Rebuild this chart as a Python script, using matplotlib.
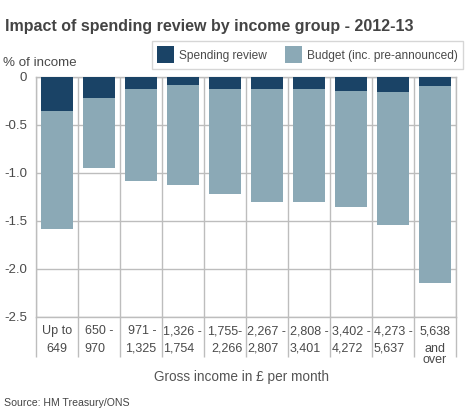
import matplotlib
matplotlib.use("Agg")
import matplotlib.pyplot as plt
import matplotlib.transforms as mtransforms
import numpy as np

categories = ["Up to\n649", "650 -\n970", "971 -\n1,325", "1,326 -\n1,754", "1,755-\n2,266",
              "2,267 -\n2,807", "2,808 -\n3,401", "3,402 -\n4,272", "4,273 -\n5,637", "5,638\nand\nover"]
spending_review = [-0.36, -0.22, -0.13, -0.09, -0.13, -0.13, -0.13, -0.15, -0.16, -0.10]
total = [-1.59, -0.95, -1.09, -1.13, -1.22, -1.31, -1.30, -1.36, -1.54, -2.15]
budget = [t - s for t, s in zip(total, spending_review)]
yticks = [0, -0.5, -1.0, -1.5, -2.0, -2.5]
ytick_labels = ["0", "-0.5", "-1.0", "-1.5", "-2.0", "-2.5"]

plt.rcParams['font.family'] = ['Liberation Sans', 'DejaVu Sans']

W, H = 466, 413
fig = plt.figure(figsize=(W / 100, H / 100), dpi=100)
ax = fig.add_axes([35.7 / W, (H - 316.7) / H, (456 - 35.7) / W, (316.7 - 76.7) / H])

dark = "#1a4366"
light = "#8ba9b6"
grid = "#bdbdbd"
label_col = "#4a4a4a"

x = np.arange(len(categories))
ax.bar(x, spending_review, width=0.76, color=dark, label="Spending review", zorder=3)
ax.bar(x, budget, width=0.76, bottom=spending_review, color=light,
       label="Budget (inc. pre-announced)", zorder=3)

ax.set_xlim(-0.5, len(categories) - 0.5)
ax.set_ylim(-2.5, 0)
ax.set_yticks(yticks)
ax.set_yticklabels(ytick_labels)
ax.yaxis.grid(True, color=grid, linewidth=1, zorder=0)
ax.tick_params(axis='y', length=0, pad=6, labelsize=9.5, labelcolor=label_col)

# tick labels: first two lines as tick labels, any extra line drawn separately
main_lines = ["\n".join(c.split("\n")[:2]) for c in categories]
extra_lines = [c.split("\n")[2:] for c in categories]
ax.set_xticks(x)
ax.set_xticklabels(main_lines, fontsize=9, color=label_col, linespacing=1.62, va="top")
aligns = ["center", "left", "right", "left", "right", "left", "left", "left", "left", "center"]
for lab, al in zip(ax.get_xticklabels(), aligns):
    lab.set_multialignment(al)
ax.tick_params(axis='x', which='major', length=0, pad=6)
bounds = np.arange(-0.5, len(categories), 1.0)
ax.set_xticks(bounds, minor=True)
ax.xaxis.grid(True, which='minor', color=grid, linewidth=1, zorder=0)
ax.tick_params(axis='x', which='minor', length=28.5, width=1, color=grid, direction='out')

blend = mtransforms.blended_transform_factory(ax.transData, fig.transFigure)
for xi, extra in zip(x, extra_lines):
    for k, line in enumerate(extra):
        ax.text(xi, 1 - (363 + 11 * k) / H, line, transform=blend, fontsize=9,
                color=label_col, ha="center", va="baseline")

for s in ax.spines.values():
    s.set_color(grid)
    s.set_linewidth(1)

fig.text(5 / W, 1 - 26.7 / H, "Impact of spending review by income group - 2012-13",
         fontsize=11.5, fontweight="bold", color="#444444", va="center", ha="left")
fig.text(3 / W, 1 - 62.5 / H, "% of income", fontsize=9.6, color=label_col,
         va="center", ha="left")

leg = fig.legend(loc="upper right", bbox_to_anchor=(463 / W, 1 - 41 / H), ncol=2,
                 frameon=True, fancybox=False, fontsize=8.6, handlelength=1.42,
                 handleheight=1.81, handletextpad=0.37, columnspacing=1.59,
                 borderpad=0.45, borderaxespad=0)
leg.get_frame().set_edgecolor("#cccccc")
leg.get_frame().set_linewidth(1)
for t in leg.get_texts():
    t.set_color(label_col)

fig.text(241 / W, 1 - 377 / H, "Gross income in £ per month", fontsize=9.8,
         color="#555555", ha="center", va="center")
fig.text(4 / W, 1 - 403 / H, "Source: HM Treasury/ONS", fontsize=7.6,
         color="#444444", ha="left", va="center")

fig.savefig("out.png", dpi=100)
